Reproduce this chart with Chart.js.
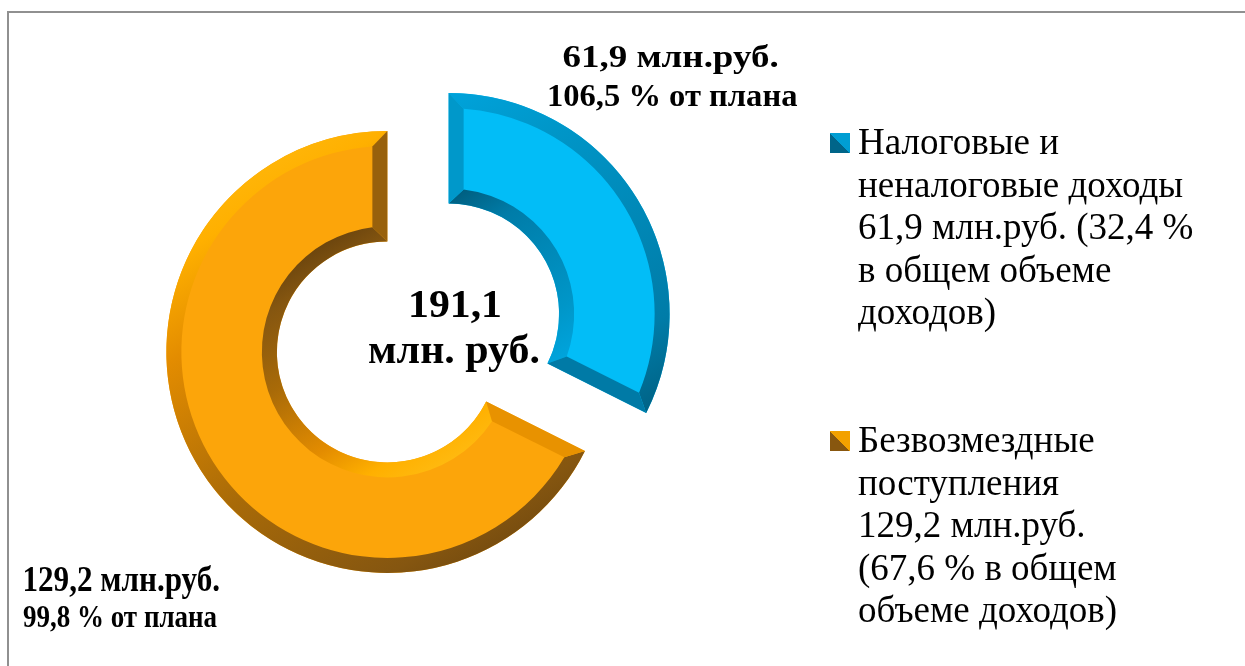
<!DOCTYPE html>
<html>
<head>
<meta charset="utf-8">
<script src="https://cdn.jsdelivr.net/npm/chart.js@4.4.0/dist/chart.umd.min.js"></script>
<style>
  html, body { margin: 0; padding: 0; background: #fff; }
  #wrap { position: relative; width: 1245px; height: 666px; overflow: hidden; font-family: "Liberation Serif", "Times New Roman", serif; }
  #frame { position: absolute; left: 7px; top: 11px; width: 1400px; height: 800px; border-left: 2px solid #909090; border-top: 2px solid #909090; }
  canvas { position: absolute; left: 0; top: 0; }
  .txt { position: absolute; white-space: nowrap; color: #000; line-height: 1.107; }
  .mark { position: absolute; width: 20px; height: 20px; }
</style>
</head>
<body>
<div id="wrap">
  <div id="frame"></div>
  <canvas id="c" width="1245" height="666"></canvas>
</div>
<script>
// данные
const categories = ['Налоговые и неналоговые доходы', 'Безвозмездные поступления'];
const values = [61.9, 129.2];          // млн.руб.
const sharePct = [32.4, 67.6];         // % в общем объеме доходов
const planPct = [106.5, 99.8];         // % от плана
const legendLines = [
    ['Налоговые и', 'неналоговые доходы', '61,9 млн.руб. (32,4 %', 'в общем объеме', 'доходов)'],
    ['Безвозмездные', 'поступления', '129,2 млн.руб.', '(67,6 % в общем', 'объеме доходов)']
];

const BEVEL = 15;     // ширина фаски
const EXPLODE = 36;   // вынос сегментов

// цвета: лицевая сторона + градиент фаски (от светлой к тёмной)
const shade = [
    { face: '#02bdf7', stops: [[0, '#14b4ec'], [0.13, '#00a3db'], [0.3, '#0096c8'], [0.72, '#007ca8'], [0.91, '#005a7a'], [1, '#004a66']] },
    { face: '#fca50a', stops: [[0, '#ffba10'], [0.13, '#ffb000'], [0.3, '#e38c00'], [0.6, '#a86a08'], [0.87, '#855610'], [1, '#6a440e']] }
];

const fmt = v => v.toFixed(1).replace('.', ',');

function hexToRgb(h) {
    return [parseInt(h.slice(1, 3), 16), parseInt(h.slice(3, 5), 16), parseInt(h.slice(5, 7), 16)];
}

function colorAt(stops, t) {
    t = Math.max(0, Math.min(1, t));
    for (let k = 1; k < stops.length; k++) {
        if (t <= stops[k][0]) {
            const [t0, c0] = stops[k - 1], [t1, c1] = stops[k];
            const f = (t - t0) / (t1 - t0);
            const a = hexToRgb(c0), b = hexToRgb(c1);
            return 'rgb(' + a.map((v, j) => Math.round(v + (b[j] - v) * f)).join(',') + ')';
        }
    }
    return stops[stops.length - 1][1];
}

// положение точки на градиенте (свет сверху-слева)
function tAt(cx, cy, rad, px, py) {
    const vx = 0.6 * rad, vy = rad;
    return ((px - cx + vx) * 2 * vx + (py - cy + vy) * 2 * vy) / (4 * (vx * vx + vy * vy));
}

function drawBevel(ctx, el, stops) {
    const { x, y, startAngle: s, endAngle: e, innerRadius: r, outerRadius: R } = el;
    const b = BEVEL;
    const dO = Math.asin(b / (R - b)), dI = Math.asin(b / (r + b));
    const P = (rho, a) => [x + rho * Math.cos(a), y + rho * Math.sin(a)];
    const grad = (rad, flip) => {
        const vx = 0.6 * rad, vy = rad;
        const g = flip
            ? ctx.createLinearGradient(x + vx, y + vy, x - vx, y - vy)
            : ctx.createLinearGradient(x - vx, y - vy, x + vx, y + vy);
        stops.forEach(([t, c]) => g.addColorStop(t, c));
        return g;
    };
    ctx.save();
    // внешняя фаска
    ctx.beginPath();
    ctx.arc(x, y, R, s, e);
    ctx.arc(x, y, R - b, e - dO, s + dO, true);
    ctx.closePath();
    ctx.fillStyle = grad(R, false);
    ctx.fill();
    // внутренняя фаска
    ctx.beginPath();
    ctx.arc(x, y, r, s, e);
    ctx.arc(x, y, r + b, e - dI, s + dI, true);
    ctx.closePath();
    ctx.fillStyle = grad(r, true);
    ctx.fill();
    // торцы
    [[s, 1], [e, -1]].forEach(([a, dir]) => {
        const pts = [P(R, a), P(r, a), P(r + b, a + dir * dI), P(R - b, a + dir * dO)];
        const nx = dir * Math.sin(a), ny = -dir * Math.cos(a);
        ctx.beginPath();
        pts.forEach((p, k) => k ? ctx.lineTo(p[0], p[1]) : ctx.moveTo(p[0], p[1]));
        ctx.closePath();
        ctx.fillStyle = colorAt(stops, tAt(x, y, R, x + nx * R, y + ny * R));
        ctx.fill();
    });
    ctx.restore();
}

// вынос сегментов и объёмная фаска
const bevelPlugin = {
    id: 'bevel',
    beforeDatasetsDraw(chart) {
        chart.getDatasetMeta(0).data.forEach(el => {
            const mid = (el.startAngle + el.endAngle) / 2;
            el._dx = Math.cos(mid) * EXPLODE;
            el._dy = Math.sin(mid) * EXPLODE;
            el.x += el._dx;
            el.y += el._dy;
        });
    },
    afterDatasetsDraw(chart) {
        chart.getDatasetMeta(0).data.forEach((el, i) => {
            drawBevel(chart.ctx, el, shade[i].stops);
            el.x -= el._dx;
            el.y -= el._dy;
        });
    }
};

new Chart(document.getElementById('c'), {
    type: 'doughnut',
    data: {
        labels: categories,
        datasets: [{
            data: values,
            backgroundColor: shade.map(s => s.face),
            borderWidth: 0
        }]
    },
    options: {
        responsive: false,
        animation: false,
        events: [],
        cutout: '50%',
        layout: { padding: { left: 197, right: 606, top: 112, bottom: 112 } },
        plugins: { legend: { display: false }, tooltip: { enabled: false } }
    },
    plugins: [bevelPlugin]
});

// тексты
const wrap = document.getElementById('wrap');

function addText(txt, x, base, size, bold, center, fitW) {
    const d = document.createElement('div');
    d.className = 'txt';
    d.textContent = txt;
    d.style.fontSize = size + 'px';
    d.style.fontWeight = bold ? 'bold' : 'normal';
    d.style.top = (base - 0.891 * size) + 'px';
    wrap.appendChild(d);
    const w = d.offsetWidth;
    const k = fitW ? fitW / w : 1;
    if (center) {
        d.style.left = (x - w / 2) + 'px';
        d.style.transformOrigin = '50% 50%';
    } else {
        d.style.left = x + 'px';
        d.style.transformOrigin = '0 50%';
    }
    d.style.transform = 'scaleX(' + k + ')';
}

// подписи сегментов
addText(fmt(values[0]) + ' млн.руб.', 670, 68, 32, true, true, 216);
addText(fmt(planPct[0]) + ' % от плана', 672, 107, 31, true, true, 250);
addText(fmt(values[1]) + ' млн.руб.', 121, 592, 36, true, true, 198);
addText(fmt(planPct[1]) + ' % от плана', 120, 628, 32, true, true, 194);

// итог в центре
const total = values.reduce((a, b) => a + b, 0);
addText(fmt(total), 455, 318, 40, true, true, 94);
addText('млн. руб.', 454, 364, 41, true, true, 172);

// легенда
const legendBase = [155, 453];
legendLines.forEach((lines, i) => {
    const m = document.createElement('div');
    m.className = 'mark';
    m.style.left = '830px';
    m.style.top = (legendBase[i] - 22) + 'px';
    m.style.background = 'linear-gradient(to top right, ' + colorAt(shade[i].stops, 0.85) + ' 50%, ' + colorAt(shade[i].stops, 0.2) + ' 50%)';
    wrap.appendChild(m);
    lines.forEach((ln, j) => addText(ln, 858, legendBase[i] + j * 42.5, 37, false, false));
});
</script>
</body>
</html>
